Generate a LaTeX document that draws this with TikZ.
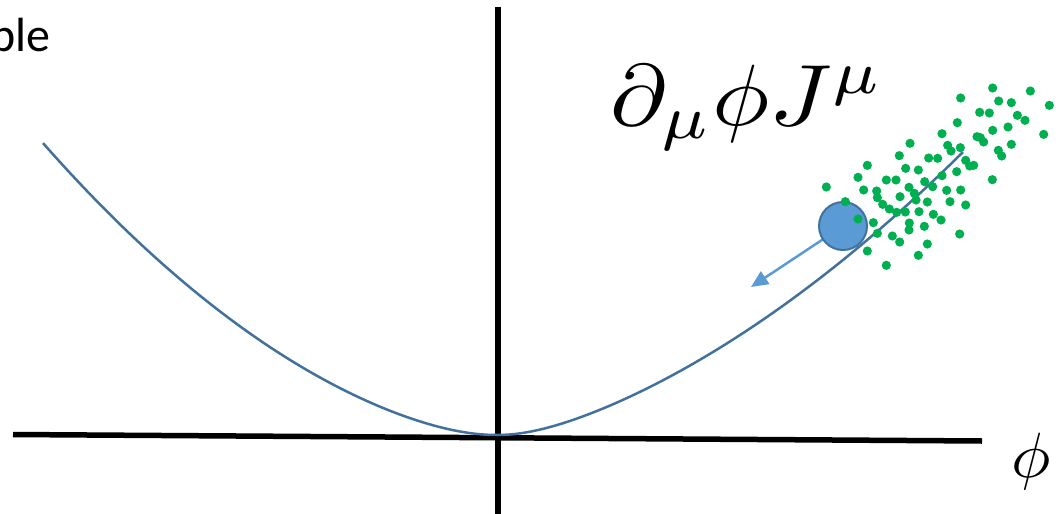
\documentclass[tikz,border=0pt]{standalone}
\usepackage{fontspec}
\setmainfont{Carlito}
\usetikzlibrary{arrows.meta}
\definecolor{curveblue}{RGB}{65,113,156}
\definecolor{ballblue}{RGB}{91,155,213}
\definecolor{dotgreen}{RGB}{0,176,80}
\begin{document}
\begin{tikzpicture}[x=1pt,y=-1pt,
  axisline/.style={line width=5.5pt,black},
  potcurve/.style={line width=2.5pt,curveblue},
  ballstyle/.style={circle,draw=curveblue,fill=ballblue,line width=2pt,minimum size=48pt,inner sep=0pt},
  forcearrow/.style={line width=2.5pt,ballblue,-{Triangle[length=17pt,width=15pt]}},
  greendot/.style={fill=dotgreen}]
\useasboundingbox (0,0) rectangle (1063,514);
% axes
\coordinate (hl) at (13,434.5);
\coordinate (hr) at (982,441);
\coordinate (vt) at (498,7);
\coordinate (vb) at (498,520);
\draw[axisline] (hl) -- (hr);
\draw[axisline] (vt) -- (vb);
% potential curve
\draw[potcurve] plot[domain=-4.54:0,samples=80,variable=\u] ({497+100*\u},{435-(19.8*(sqrt(\u*\u+0.36)-0.6)+10.34*\u*\u)})
  -- plot[domain=0:4.66,samples=80,variable=\u] ({497+100*\u},{435-(29.2*(sqrt(\u*\u+0.36)-0.6)+7.52*\u*\u)});
% arrow and ball
\coordinate (bc) at (843,226);
\coordinate (tip) at (751,287);
\draw[forcearrow] (bc) -- (tip);
\node[ballstyle] (ball) at (bc) {};
% dots
\foreach \a/\b in {578/24,691/33,482/54,596/63,634/68,748/76,539/97,568/99,652/106,675/121,472/128,578/151,624/141,731/163,426/161,531/170,541/173,551/186,634/193,330/190,443/196,453/213,481/203,595/211,605/228,298/227,386/234,413/235,497/241,509/258,521/256,202/256,317/265,355/270,470/275,426/287,577/299,174/292,259/300,288/300,374/305,79/321,191/330,230/333,327/322,398/320,440/331,482/330,232/353,300/350,343/340,348/360,382/366,450/365,497/375,136/365,248/373,268/387,290/397,316/396,357/395,400/403,423/420,174/417,220/428,328/429,327/450,373/439,232/460,277/468,299/486,382/492,479/462,202/513,355/526,259/556}
  \fill[greendot] ({800+\a/3},{80+\b/3}) circle (4.6pt);
% labels
\node[anchor=base east,inner sep=0pt,font=\fontsize{48}{52}\selectfont] (ble) at (50.5,51) {ble};
\node[anchor=base west,inner sep=0pt] (eq) at (610,125) {\scalebox{9.6}[8.7]{$\partial_\mu\phi J^\mu$}};
\node[anchor=base,inner sep=0pt] (phi) at (1031.5,477.6) {\scalebox{6.6}[6.4]{$\phi$}};
\end{tikzpicture}
\end{document}
